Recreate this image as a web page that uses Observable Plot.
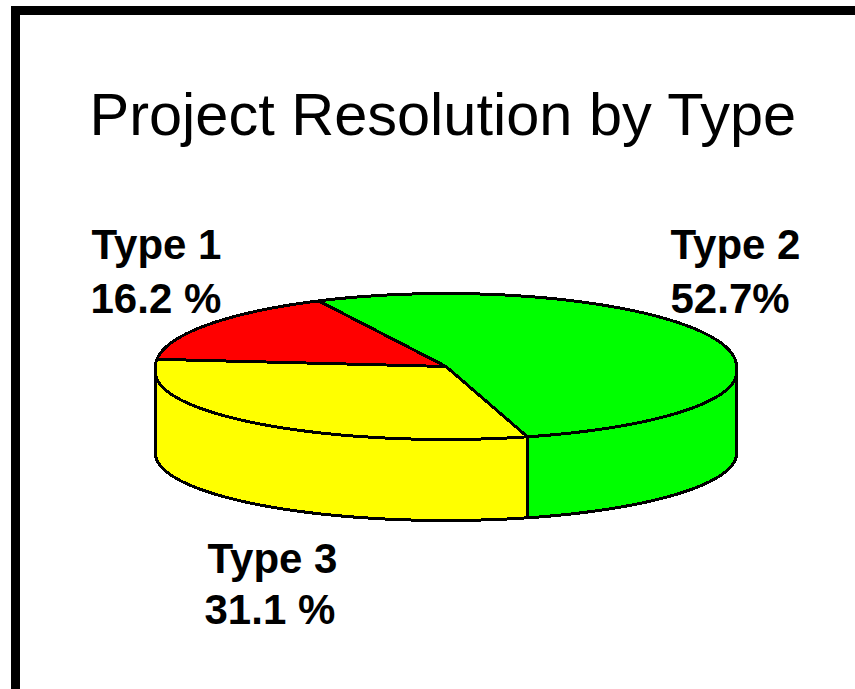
<!DOCTYPE html>
<html>
<head>
<meta charset="utf-8">
<style>
html,body{margin:0;padding:0;background:#fff;overflow:hidden;width:855px;height:689px}
#frame{position:absolute;left:11px;top:6px;width:844px;height:683px;box-sizing:border-box;border-left:9px solid #000;border-top:9px solid #000}
#chart{position:absolute;left:0;top:0}
</style>
<script src="https://cdn.jsdelivr.net/npm/d3@7"></script>
<script src="https://cdn.jsdelivr.net/npm/@observablehq/plot@0.6"></script>
</head>
<body>
<div id="frame"></div>
<div id="chart"></div>
<script>
const chartTitle = "Project Resolution by Type";
const categories = ["Type 1", "Type 2", "Type 3"];
const shares = [16.2, 52.7, 31.1];
const shareLabels = ["16.2 %", "52.7%", "31.1 %"];
const colors = ["#ff0000", "#00ff00", "#ffff00"];

// Projection settings of the tilted disc, in unit-circle coordinates
const startAngle = 244;          // clockwise from 3 o'clock, where Type 2 begins
const order = [1, 2, 0];         // clockwise order of the slices
const depth = 81 / 73;           // wall height
const frontShift = 6 / 73;       // the front rim sits a little lower ...
const frontSquash = 67 / 73;     // ... and flatter than the back rim

const rad = d => d * Math.PI / 180;
const rim = t => {
  const s = Math.sin(rad(t));
  return {x: Math.cos(rad(t)), y: s > 0 ? frontShift + frontSquash * s : s};
};
const arc = (a, b) => {
  const n = Math.max(2, Math.ceil((b - a) / 1.5));
  return d3.range(n + 1).map(i => rim(a + (b - a) * i / n));
};

let angle = startAngle;
const slices = order.map(i => {
  const a0 = angle, a1 = angle + shares[i] * 3.6;
  angle = a1;
  return {color: colors[i], a0, a1};
});

const faces = slices.map(s => ({color: s.color,
  points: [{x: 0, y: 0}, ...arc(s.a0, s.a1), {x: 0, y: 0}]}));

// Visible front part of the cylinder wall of each slice
const walls = slices.flatMap(s => {
  const spans = [[s.a0, s.a1], [s.a0 - 360, s.a1 - 360]]
    .map(([a, b]) => [Math.max(a, 0), Math.min(b, 180)])
    .filter(([a, b]) => b > a);
  return spans.map(([a, b]) => {
    const top = arc(a, b);
    const bottom = top.map(p => ({x: p.x, y: p.y + depth})).reverse();
    return {color: s.color, points: [...top, ...bottom, top[0]]};
  });
});

const polygon = f => Plot.line(f.points, {
  x: "x", y: "y", fill: f.color, stroke: "#000", strokeWidth: 3,
  strokeLinejoin: "miter", curve: "linear"
});

const label = (text, left, baseline, size, weight) => Plot.text([text], {
  text: d => d, frameAnchor: "top-left", dx: left, dy: baseline,
  textAnchor: "start", lineAnchor: "bottom", fontSize: size, fontWeight: weight,
  fontFamily: "Liberation Sans", fill: "#000"
});

const layout = [[0, 91, 258, 90, 312], [1, 670, 258, 670, 312], [2, 207, 572, 204, 623]];

document.getElementById("chart").append(Plot.plot({
  width: 855, height: 689,
  margin: 0,
  style: {background: "transparent", shapeRendering: "crispEdges"},
  x: {domain: [-1, 1], range: [155, 736], axis: null},
  y: {domain: [-1, 1], range: [293, 439], axis: null},
  marks: [
    ...walls.map(polygon),
    ...faces.map(polygon),
    label(chartTitle, 89, 134, 59.5, 400),
    ...layout.flatMap(([i, x1, y1, x2, y2]) => [
      label(categories[i], x1, y1, 42, 700),
      label(shareLabels[i], x2, y2, 42, 700)
    ])
  ]
}));
</script>
</body>
</html>
